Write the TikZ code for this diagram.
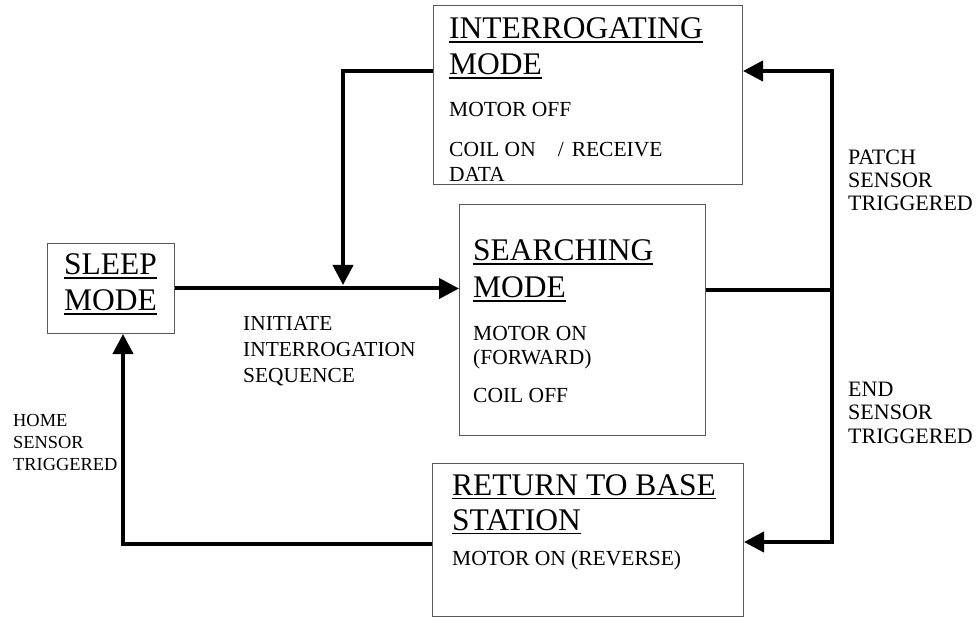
\documentclass[tikz,border=0pt]{standalone}
\usepackage{fontspec}
\setmainfont{Liberation Serif}
\usetikzlibrary{arrows.meta}
\newcommand\myul[1]{\setbox0\hbox{#1}\rlap{\rule[-4.2pt]{\wd0}{1.7pt}}\box0}
\newcommand\ttlfont{\fontsize{31.5}{36}\selectfont}
\newcommand\bxfont{\fontsize{21.5}{25}\selectfont}
\tikzset{
  box/.style={draw=black!65, line width=1pt, anchor=north west, inner sep=0pt},
  lbl/.style={anchor=base west, inner sep=0pt, align=left},
  conn/.style={line width=4pt, line join=miter},
  arr/.style={conn, -{Triangle[length=20pt,width=20pt]}}
}
\begin{document}
\begin{tikzpicture}[x=1pt,y=-1pt]
\useasboundingbox (0,0) rectangle (979,617);
% boxes
\node[box, minimum width=309pt, minimum height=179pt] (intg) at (433,5) {};
\node[box, minimum width=246pt, minimum height=231pt] (srch) at (459,204) {};
\node[box, minimum width=127pt, minimum height=90pt] (sleep) at (47,243) {};
\node[box, minimum width=311pt, minimum height=153pt] (ret) at (432,463) {};
% box texts
\node[lbl, font=\ttlfont] (t1) at (449,39) {\myul{INTERROGATING}};
\node[lbl, font=\ttlfont] (t2) at (449,75) {\myul{MODE}};
\node[lbl, font=\bxfont] (t3) at (449,117) {MOTOR OFF};
\node[lbl, font=\bxfont] (t4) at (449,157) {COIL ON\hspace{22pt}/\hspace{8pt}RECEIVE};
\node[lbl, font=\bxfont] (t5) at (449,182) {DATA};
\node[lbl, font=\ttlfont] (s1) at (473,261) {\myul{SEARCHING}};
\node[lbl, font=\ttlfont] (s2) at (473,298) {\myul{MODE}};
\node[lbl, font=\bxfont] (s3) at (473,340) {MOTOR ON};
\node[lbl, font=\bxfont] (s4) at (473,364) {(FORWARD)};
\node[lbl, font=\bxfont] (s5) at (473,402) {COIL OFF};
\node[lbl, font=\ttlfont] (p1) at (64,275) {\myul{SLEEP}};
\node[lbl, font=\ttlfont] (p2) at (64,311) {\myul{MODE}};
\node[lbl, font=\ttlfont] (r1) at (452,495) {\myul{RETURN TO BASE}};
\node[lbl, font=\ttlfont] (r2) at (452,530) {\myul{STATION}};
\node[lbl, font=\bxfont] (r3) at (452,565) {MOTOR ON (REVERSE)};
% edge labels (base anchor = last line)
\node[lbl, font=\fontsize{22}{23.2}\selectfont] (la) at (848,211) {PATCH\\SENSOR\\TRIGGERED};
\node[lbl, font=\fontsize{22}{23.2}\selectfont] (lb) at (848,443) {END\\SENSOR\\TRIGGERED};
\node[lbl, font=\fontsize{18.4}{21.6}\selectfont] (lc) at (13,470) {HOME\\SENSOR\\TRIGGERED};
\node[lbl, font=\fontsize{21.4}{25.6}\selectfont] (ld) at (243,382) {INITIATE\\INTERROGATION\\SEQUENCE};
% connectors
\coordinate (jbot) at (343,285);
\coordinate (rs) at (832,290);
\draw[arr] (sleep.east) -- (srch.west |- sleep.east);
\draw[arr] ([yshift=-66pt]intg.north west) -| (jbot);
\draw[conn] ([yshift=-86pt]srch.north east) -- (rs);
\draw[arr] (rs) |- ([yshift=-66pt]intg.north east);
\draw[arr] (rs) |- ([yshift=-79pt]ret.north east);
\draw[arr] ([yshift=-81pt]ret.north west) -| ([xshift=76pt]sleep.south west);
\end{tikzpicture}
\end{document}
